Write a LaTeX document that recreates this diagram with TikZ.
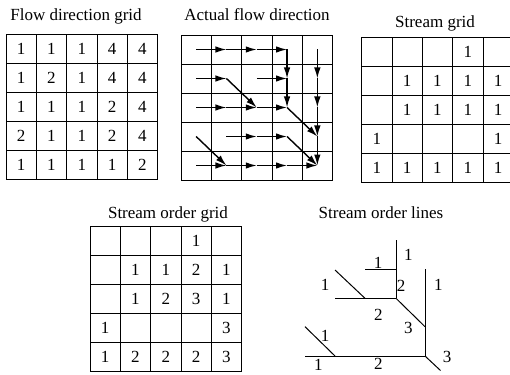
\documentclass[tikz,border=0pt]{standalone}
\usepackage{fontspec}
\setmainfont{Liberation Serif}
\usetikzlibrary{arrows.meta,positioning}

\tikzset{
  cell/.style={draw, line width=0.8pt, minimum width=30.3pt, minimum height=29pt,
    inner sep=0pt, font=\fontsize{17}{20}\selectfont},
  title/.style={anchor=base, inner sep=0pt, font=\fontsize{17}{20}\selectfont},
  flow/.style={line width=1.4pt, -{Latex[length=11pt,width=6.5pt]}},
  branch/.style={line width=1pt},
  order/.style={inner sep=0pt, font=\fontsize{17}{20}\selectfont}
}

\begin{document}
\begin{tikzpicture}[x=1pt,y=-1pt]
        \useasboundingbox (0,0) rectangle (510,374);

        % Flow direction grid
        \node[title] (t-flow) at (76,21) {Flow direction grid};
        \foreach \row [count=\r] in {{1,1,1,4,4},{1,2,1,4,4},{1,1,1,2,4},{2,1,1,2,4},{1,1,1,1,2}}
          \foreach \v [count=\c] in \row
            \node[cell] (f-\r-\c) at ({6+30.3*(\c-0.5)},{34.5+29*(\r-0.5)}) {\v};

        % Actual flow direction
        \node[title] (t-actual) at (257,21) {Actual flow direction};
        \foreach \r in {1,...,5}
          \foreach \c in {1,...,5}
            \node[cell] (a-\r-\c) at ({181+30.3*(\c-0.5)},{35+29*(\r-0.5)}) {};
        \foreach \s/\e in {1-1/1-2, 1-2/1-3, 1-3/1-4, 1-4/2-4, 1-5/2-5,
                           2-1/2-2, 2-2/3-3, 2-3/2-4, 2-4/3-4, 2-5/3-5,
                           3-1/3-2, 3-2/3-3, 3-3/3-4, 3-4/4-5, 3-5/4-5,
                           4-1/5-2, 4-2/4-3, 4-3/4-4, 4-4/5-5, 4-5/5-5,
                           5-1/5-2, 5-2/5-3, 5-3/5-4, 5-4/5-5}
          \draw[flow] (a-\s.center) -- (a-\e.center);

        % Stream grid
        \node[title] (t-stream) at (435,28) {Stream grid};
        \foreach \row [count=\r] in {{{},{},{},1,{}},{{},1,1,1,1},{{},1,1,1,1},{1,{},{},{},1},{1,1,1,1,1}}
          \foreach \v [count=\c] in \row
            \node[cell] (s-\r-\c) at ({361.7+30.3*(\c-0.5)},{37.5+29*(\r-0.5)}) {\v};

        % Stream order grid
        \node[title] (t-order) at (168,218) {Stream order grid};
        \foreach \row [count=\r] in {{{},{},{},1,{}},{{},1,1,2,1},{{},1,2,3,1},{1,{},{},{},3},{1,2,2,2,3}}
          \foreach \v [count=\c] in \row
            \node[cell] (o-\r-\c) at ({90+30.3*(\c-0.5)},{226.7+29*(\r-0.5)}) {\v};

        % Stream order lines
        \node[title] (t-lines) at (381,218) {Stream order lines};
        \coordinate (top) at (396,240);
        \coordinate (short) at (365,269.3);
        \coordinate (join-a) at (396,269.3);
        \coordinate (join-b) at (396,298.3);
        \coordinate (diag-a) at (335,270);
        \coordinate (foot-a) at (365,298.3);
        \coordinate (left-a) at (335,298.3);
        \coordinate (right-top) at (425,269.3);
        \coordinate (join-c) at (425,326.7);
        \coordinate (diag-b) at (305,326.7);
        \coordinate (foot-b) at (335,356);
        \coordinate (left-b) at (305,356);
        \coordinate (outlet) at (425,356);
        \coordinate (end) at (440.5,370.5);

        \draw[branch] (top) -- (join-b);
        \draw[branch] (short) -- (join-a);
        \draw[branch] (diag-a) -- (foot-a);
        \draw[branch] (left-a) -- (join-b);
        \draw[branch] (join-b) -- (join-c);
        \draw[branch] (right-top) -- (outlet);
        \draw[branch] (diag-b) -- (foot-b);
        \draw[branch] (left-b) -- (outlet);
        \draw[branch] (outlet) -- (end);

        \node[order] (n-top) at (408.3,255) {1};
        \node[order, above=0.5pt of short, xshift=13pt] (n-short) {1};
        \node[order] (n-mid) at (401,286) {2};
        \node[order] (n-right) at (438.3,285) {1};
        \node[order] (n-diag-a) at (325,285) {1};
        \node[order] (n-left-a) at (378.3,315) {2};
        \node[order] (n-join) at (408.3,327.7) {3};
        \node[order] (n-diag-b) at (325,335.7) {1};
        \node[order] (n-left-b) at (318.3,365) {1};
        \node[order] (n-bottom) at (378.3,364) {2};
        \node[order] (n-outlet) at (447,357) {3};
\end{tikzpicture}
\end{document}
